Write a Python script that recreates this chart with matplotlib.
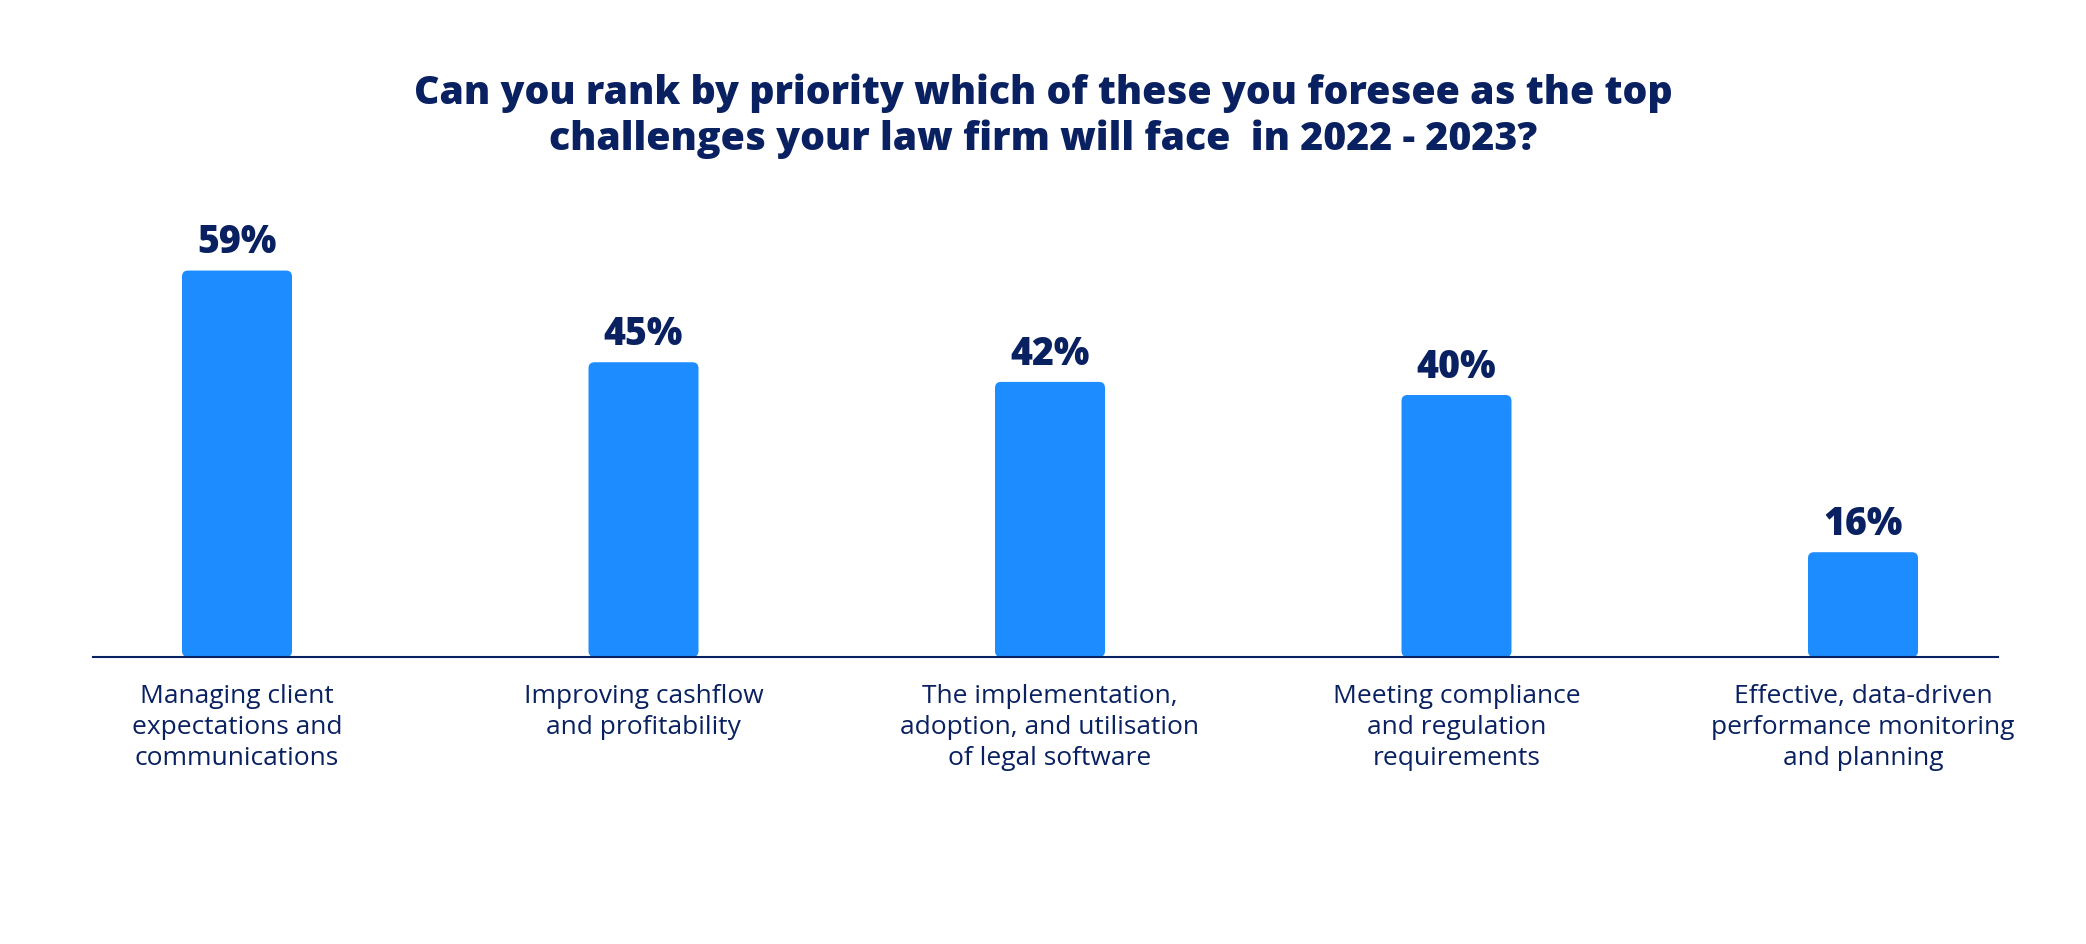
import matplotlib
matplotlib.use("Agg")
import matplotlib.pyplot as plt
from matplotlib.patches import FancyBboxPatch

categories = [
    "Managing client\nexpectations and\ncommunications",
    "Improving cashflow\nand profitability",
    "The implementation,\nadoption, and utilisation\nof legal software",
    "Meeting compliance\nand regulation\nrequirements",
    "Effective, data-driven\nperformance monitoring\nand planning",
]
values = [59, 45, 42, 40, 16]
value_labels = ["59%", "45%", "42%", "40%", "16%"]
title = ("Can you rank by priority which of these you foresee as the top\n"
         "challenges your law firm will face  in 2022 - 2023?")

NAVY = "#0A2161"
BLUE = "#1C8CFF"
FONT = ["Open Sans", "DejaVu Sans"]

W, H, DPI = 2086, 944, 100
fig = plt.figure(figsize=(W / DPI, H / DPI), dpi=DPI)
fig.patch.set_facecolor("white")

# axes geometry in pixels
ax_left_px, ax_right_px = 93, 1998
base_px = 657          # baseline from top
top_px = 200           # axes top from top
ax = fig.add_axes([ax_left_px / W, 1 - base_px / H,
                   (ax_right_px - ax_left_px) / W, (base_px - top_px) / H])

px_per_unit = 6.55
ax.set_ylim(0, (base_px - top_px) / px_per_unit)
spacing_px = 406.5
first_px = 237
ax.set_xlim((ax_left_px - first_px) / spacing_px, (ax_right_px - first_px) / spacing_px)

x = list(range(len(values)))
bar_w = 110 / spacing_px
bars = ax.bar(x, values, width=bar_w, color=BLUE)

# replace with rounded bars
r_px = 6
r_x = r_px / spacing_px
aspect = (1 / px_per_unit) / (1 / spacing_px)
for b in bars:
    bx, by = b.get_x(), b.get_y()
    bw, bh = b.get_width(), b.get_height()
    p = FancyBboxPatch((bx, by), bw, bh,
                       boxstyle=f"round,pad=0,rounding_size={r_x}",
                       mutation_aspect=aspect, facecolor=BLUE,
                       edgecolor="none", zorder=2)
    ax.add_patch(p)
    b.set_visible(False)

for xi, v, lab in zip(x, values, value_labels):
    ax.annotate(lab, (xi, v), xytext=(0, 12.3), textcoords="offset points",
                ha="center", va="baseline", fontsize=27, fontweight="heavy",
                color=NAVY, family=FONT)

for xi, cat in zip(x, categories):
    ax.annotate(cat, (xi, 0), xytext=(0, -19.5), textcoords="offset points",
                ha="center", va="top", fontsize=19, color=NAVY,
                family=FONT, linespacing=1.32)

for s in ["top", "right", "left"]:
    ax.spines[s].set_visible(False)
ax.spines["bottom"].set_color(NAVY)
ax.spines["bottom"].set_linewidth(1.5)
ax.set_xticks([])
ax.set_yticks([])
ax.set_facecolor("none")

fig.text(0.5, 1 - 150 / H, title, ha="center", va="baseline",
         fontsize=28.3, fontweight="heavy", color=NAVY, family=FONT,
         linespacing=1.2, multialignment="center")

fig.savefig("out.png", dpi=DPI, facecolor="white")
